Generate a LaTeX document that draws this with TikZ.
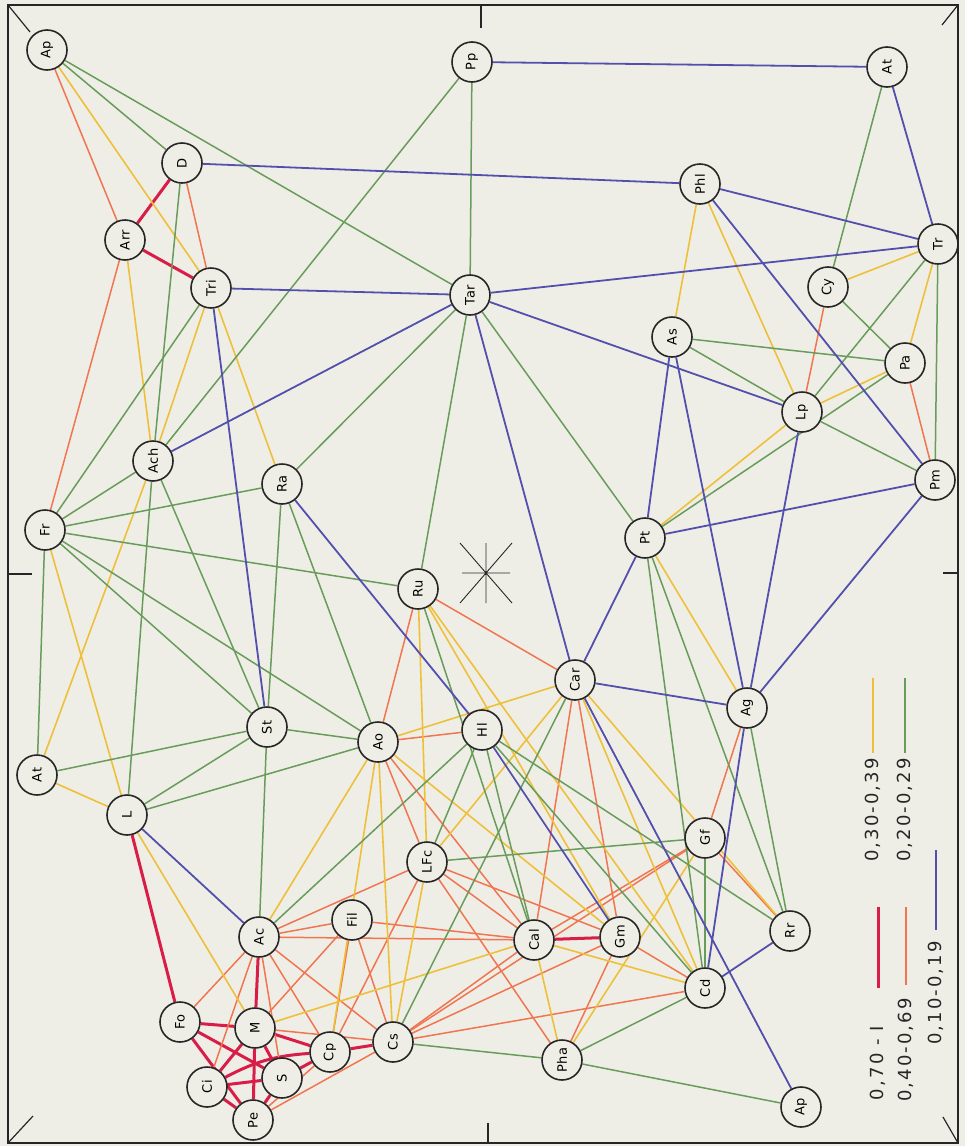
\documentclass[tikz,border=0pt]{standalone}
\usepackage{fontspec}
\newfontfamily\labfont{DejaVu Sans}[LetterSpace=5]
\newfontfamily\legfont{DejaVu Sans}[LetterSpace=12]
\definecolor{paper}{HTML}{EFEEE6}
\definecolor{cR}{HTML}{D81E48}
\definecolor{cO}{HTML}{F07550}
\definecolor{cY}{HTML}{EEC03A}
\definecolor{cG}{HTML}{689C5B}
\definecolor{cB}{HTML}{5250AC}
\pgfdeclarelayer{bg}
\pgfsetlayers{bg,main}
\tikzset{
  nd/.style={circle,draw=black!85,line width=1.6pt,minimum size=40pt,inner sep=0pt,fill=paper,
    font=\labfont\fontsize{13}{13}\selectfont,rotate=90},
  eR/.style={cR,line width=3pt},
  eO/.style={cO,line width=1.5pt},
  eY/.style={cY,line width=1.6pt},
  eG/.style={cG,line width=1.5pt},
  eB/.style={cB,line width=1.8pt},
  frm/.style={black!85,line width=1.2pt},
  leg/.style={rotate=90,font=\legfont\fontsize{18}{18}\selectfont,text=black!85},
}
\begin{document}
\begin{tikzpicture}[x=1pt,y=-1pt]
\begin{pgfonlayer}{bg}
\fill[paper] (0,0) rectangle (965,1146);
\end{pgfonlayer}
\useasboundingbox (0,0) rectangle (965,1146);
% frame
\draw[frm] (8,5) rectangle (958,1143);
\draw[frm] (8,5) -- (30,32);
\draw[frm] (958,5) -- (942,25);
\draw[frm] (8,1143) -- (33,1116);
\draw[frm] (958,1143) -- (943,1117);
\draw[frm] (481,5) -- (481,28);
\draw[frm] (8,574) -- (32,574);
\draw[frm] (958,573) -- (943,573);
\draw[frm] (488,1143) -- (488,1123);
% star
\draw[frm,line width=0.9pt] (486,543) -- (486,603) (462,573) -- (510,573)
  (460,543) -- (512,603) (512,543) -- (460,603);
% nodes
\node[nd] (Ap1) at (47,50) {Ap};
\node[nd] (Pp) at (472,62) {Pp};
\node[nd] (At1) at (887,67) {At};
\node[nd] (D) at (182,163) {D};
\node[nd] (Phl) at (700,184) {Phl};
\node[nd] (Arr) at (125,240) {Arr};
\node[nd] (Tri) at (211,288) {Tri};
\node[nd] (Tar) at (470,295) {Tar};
\node[nd] (Tr) at (938,244) {Tr};
\node[nd] (Cy) at (828,287) {Cy};
\node[nd] (As) at (672,337) {As};
\node[nd] (Pa) at (905,363) {Pa};
\node[nd] (Lp) at (802,412) {Lp};
\node[nd] (Ach) at (153,461) {Ach};
\node[nd] (Ra) at (282,484) {Ra};
\node[nd] (Pm) at (935,480) {Pm};
\node[nd] (Fr) at (45,530) {Fr};
\node[nd] (Pt) at (645,538) {Pt};
\node[nd] (Ru) at (418,589) {Ru};
\node[nd] (Car) at (575,680) {Car};
\node[nd] (Ag) at (747,708) {Ag};
\node[nd] (St) at (267,727) {St};
\node[nd] (Ao) at (378,742) {Ao};
\node[nd] (Hl) at (482,730) {Hl};
\node[nd] (At2) at (37,775) {At};
\node[nd] (L) at (127,815) {L};
\node[nd] (LFc) at (427,862) {LFc};
\node[nd] (Gf) at (705,838) {Gf};
\node[nd] (Fil) at (352,920) {Fil};
\node[nd] (Ac) at (259,937) {Ac};
\node[nd] (Cal) at (534,940) {Cal};
\node[nd] (Gm) at (620,937) {Gm};
\node[nd] (Rr) at (790,931) {Rr};
\node[nd] (Cd) at (705,988) {Cd};
\node[nd] (Fo) at (180,1022) {Fo};
\node[nd] (M) at (255,1028) {M};
\node[nd] (Cp) at (330,1052) {Cp};
\node[nd] (Cs) at (393,1042) {Cs};
\node[nd] (S) at (282,1078) {S};
\node[nd] (Ci) at (207,1087) {Ci};
\node[nd] (Pe) at (253,1120) {Pe};
\node[nd] (Pha) at (562,1060) {Pha};
\node[nd] (Ap2) at (801,1107) {Ap};
% legend
\coordinate (ly1) at (873,678); \coordinate (ly2) at (873,753);
\coordinate (lg1) at (905,678); \coordinate (lg2) at (905,753);
\coordinate (lb1) at (936,850); \coordinate (lb2) at (936,930);
\coordinate (lr1) at (878,907); \coordinate (lr2) at (878,988);
\coordinate (lo1) at (906,907); \coordinate (lo2) at (906,985);
\draw[eY] (ly1) -- (ly2);
\draw[eG] (lg1) -- (lg2);
\draw[eB] (lb1) -- (lb2);
\draw[eR] (lr1) -- (lr2);
\draw[eO] (lo1) -- (lo2);
\node[leg] (tY) at (873,810) {0,30-0,39};
\node[leg] (tG) at (905,810) {0,20-0,29};
\node[leg] (tB) at (936,993) {0,10-0,19};
\node[leg] (tR) at (878,1063) {0,70 - I};
\node[leg] (tO) at (906,1050) {0,40-0,69};
% edges
\begin{pgfonlayer}{bg}
\foreach \a/\b in {D/Arr,Arr/Tri,L/Fo,Ac/M,Fo/M,Fo/S,Fo/Pe,M/Ci,M/Pe,M/S,M/Cp,Ci/S,Ci/Pe,S/Pe,S/Cp,Cp/Cs,Cal/Gm}
  \draw[eR] (\a) -- (\b);
\draw[eR] (Ci) to[bend left=12] (Cp);
\foreach \a/\b in {Ap1/Arr,D/Tri,Arr/Fr,Cy/Lp,Pa/Pm,Ru/Car,Ru/Ao,Ao/Hl,Ao/LFc,Ao/Cal,Car/Cal,Car/Gm,Ag/Gf,Gf/Rr,Gf/Cal,Cs/Cd,
  Ac/Fo,Ac/LFc,Ac/Fil,Ac/Cal,Ac/S,Ac/Cp,Ac/Cs,Ac/Ci,LFc/Cal,LFc/Gm,LFc/Pha,LFc/Cp,Fil/Cal,Fil/Cp,Fil/Cs,Fil/M,
  Cs/Cal,Cs/Gm,Cs/Gf,Gm/Pha,Pe/Cs,Pe/Cp,M/Cs,Gm/Cd}
  \draw[eO] (\a) -- (\b);
\foreach \a/\b in {Ap1/Tri,Arr/Ach,Tri/Ach,Tri/Ra,At2/Ach,Fr/L,At2/L,L/M,Phl/As,Phl/Lp,Tr/Cy,Tr/Pa,Pa/Lp,Lp/Pt,Pt/Ag,
  Car/Ao,Car/LFc,Car/Cd,Car/Rr,Ru/LFc,Ru/Gm,Ru/Cd,Ao/Ac,Ao/Cs,Ao/Cp,Ao/Gm,LFc/Cs,Cal/Pha,Cal/Cd,M/Cal,Gf/Pha}
  \draw[eY] (\a) -- (\b);
\foreach \a/\b in {Ap1/D,Ap1/Tar,D/Ach,Pp/Tar,Pp/Ach,Tri/Fr,Fr/Ach,Fr/Ra,Fr/Ru,Fr/St,Fr/Ao,Fr/At2,Ach/L,Ach/St,Ra/St,Ra/Ao,
  Ra/Tar,At2/St,L/St,L/Ao,St/Ac,St/Ao,Tar/Ru,Tar/Pt,At1/Cy,Cy/Pa,As/Pa,As/Lp,Tr/Lp,Tr/Pm,Lp/Pm,Pa/Pt,Pt/Rr,Pt/Cd,Ag/Rr,
  Ru/Cal,LFc/Gf,Gf/Cd,Car/Cs,Hl/Ac,Hl/Cal,Hl/Rr,Hl/Cd,Hl/LFc,Pha/Cd,Pha/Ap2,Cs/Pha}
  \draw[eG] (\a) -- (\b);
\foreach \a/\b in {Pp/At1,At1/Tr,D/Phl,Phl/Tr,Phl/Pm,Tri/Tar,Tri/St,Tar/Ach,Tar/Tr,Tar/Lp,Tar/Car,As/Pt,As/Ag,Lp/Ag,Pm/Pt,
  Pm/Ag,Pt/Car,Car/Ag,Car/Ap2,Ra/Hl,Hl/Gm,L/Ac,Ag/Cd,Cd/Rr}
  \draw[eB] (\a) -- (\b);
\end{pgfonlayer}
\end{tikzpicture}
\end{document}
